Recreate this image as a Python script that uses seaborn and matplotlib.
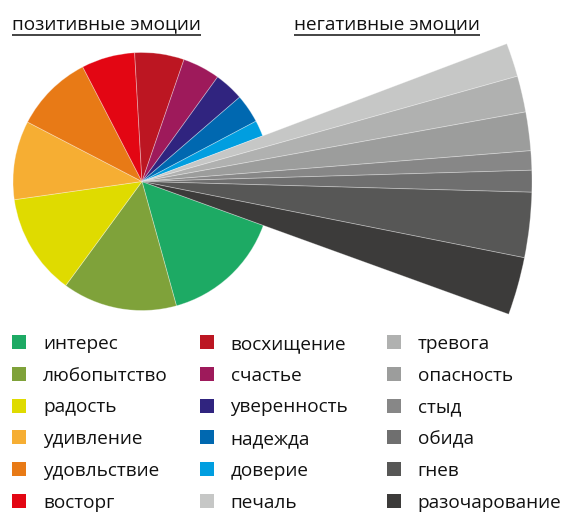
import matplotlib
matplotlib.use("Agg")
import matplotlib.pyplot as plt
from matplotlib.patches import Rectangle
import seaborn as sns

sns.set_theme(style="white")
plt.rcParams["font.family"] = ["Open Sans", "DejaVu Sans"]

# ---- data (shares of mentions, %) ----
positive_labels = ["интерес", "любопытство", "радость", "удивление", "удовльствие",
                   "восторг", "восхищение", "счастье", "уверенность", "надежда", "доверие"]
positive_values = [15.2, 14.4, 12.7, 9.9, 9.8, 6.7, 6.2, 4.7, 3.7, 3.6, 2.0]
positive_colors = ["#1DAA64", "#7FA23A", "#DFDB00", "#F6AE33", "#E87A16",
                   "#E30613", "#BC1622", "#9E1A5B", "#30247F", "#0068B0", "#009EE0"]

negative_labels = ["печаль", "тревога", "опасность", "стыд", "обида", "гнев", "разочарование"]
negative_values = [1.4, 1.5, 1.6, 0.8, 0.9, 2.7, 2.4]
negative_colors = ["#C6C7C6", "#B0B1B0", "#9C9D9C", "#878787", "#6F6F6F", "#575756", "#3C3B3A"]

titles = ["позитивные эмоции", "негативные эмоции"]

# ---- layout ----
W, H = 563, 513
fig = plt.figure(figsize=(W / 100, H / 100), dpi=100)
ax = fig.add_axes([0, 0, 1, 1])

cx, cy = 142, H - 181.5
r_pos, r_neg = 129, 390
start = 340.1

all_values = positive_values + negative_values
n_pos = len(positive_values)
edge = dict(linewidth=0.6, edgecolor=(1, 1, 1, 0.35))

w1, _ = ax.pie(all_values, colors=positive_colors + negative_colors, radius=r_pos,
               center=(cx, cy), startangle=start, counterclock=False, wedgeprops=edge)
for w in w1[n_pos:]:
    w.set_visible(False)
w2, _ = ax.pie(all_values, colors=positive_colors + negative_colors, radius=r_neg,
               center=(cx, cy), startangle=start, counterclock=False, wedgeprops=edge)
for w in w2[:n_pos]:
    w.set_visible(False)

ax.set_xlim(0, W)
ax.set_ylim(0, H)
ax.set_aspect("equal")
ax.axis("off")

# ---- titles with underline ----
fs = 13.7
tcol = "#111111"
fig.canvas.draw()
renderer = fig.canvas.get_renderer()
for tx, title in zip([12, 294], titles):
    t = ax.text(tx, H - 29.3, title, fontsize=fs, color=tcol, va="baseline", ha="left",
                fontweight="medium")
    bb = t.get_window_extent(renderer=renderer)
    ax.plot([bb.x0, bb.x1], [H - 35, H - 35], color=tcol, linewidth=1.1,
            solid_capstyle="butt")

# ---- legend (3 columns x 6 rows) ----
labels = positive_labels + negative_labels
colors = positive_colors + negative_colors
col_x = [12, 199.5, 386.7]
row_y0, row_dy = 342.0, 31.8
sq = 14
for i, (lab, col) in enumerate(zip(labels, colors)):
    c, r = divmod(i, 6)
    x = col_x[c]
    yc = H - (row_y0 + r * row_dy)
    ax.add_patch(Rectangle((x, yc - sq / 2), sq, sq, facecolor=col, edgecolor="none"))
    ax.text(x + 31, yc - 6.8, lab, fontsize=fs, color=tcol, va="baseline", ha="left",
            fontweight="medium")

fig.savefig("out.png", dpi=100)
